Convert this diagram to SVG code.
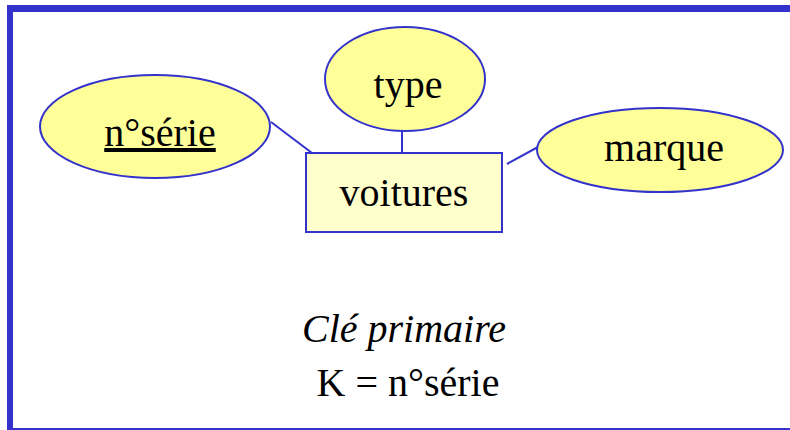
<svg xmlns="http://www.w3.org/2000/svg" width="790" height="430" viewBox="0 0 790 430">
<style>
.frame{fill:#3333CC}
.attr{fill:#FFFF99;stroke:#3333CC;stroke-width:2}
.ent{fill:#FFFFCC;stroke:#3333CC;stroke-width:2}
.conn line{stroke:#3333CC;stroke-width:2}
</style>
<rect width="790" height="430" fill="#fff"/>
<g id="frame">
<rect class="frame" x="7" y="5" width="783" height="7"/>
<rect class="frame" x="7" y="5" width="6" height="425"/>
<rect class="frame" x="7" y="428" width="783" height="2"/>
</g>
<g id="connectors" class="conn">
<line x1="271" y1="122" x2="312" y2="153"/>
<line x1="402" y1="131" x2="402" y2="153"/>
<line x1="507" y1="164" x2="538" y2="147"/>
</g>
<g font-family="Liberation Serif" font-size="40" text-anchor="middle" fill="#000">
<g id="voitures">
<rect class="ent" x="306" y="153" width="196" height="79"/>
<text x="404" y="206">voitures</text>
</g>
<g id="nserie">
<ellipse class="attr" cx="155" cy="126.5" rx="115" ry="51.5"/>
<text x="160" y="146" text-decoration="underline">n°série</text>
</g>
<g id="type">
<ellipse class="attr" cx="405" cy="79" rx="80" ry="52"/>
<text x="408" y="98">type</text>
</g>
<g id="marque">
<ellipse class="attr" cx="660" cy="150" rx="123" ry="42"/>
<text x="664" y="161">marque</text>
</g>
<g id="cle">
<text x="404" y="342" font-style="italic">Clé primaire</text>
<text x="408" y="396">K = n°série</text>
</g>
</g>
</svg>
